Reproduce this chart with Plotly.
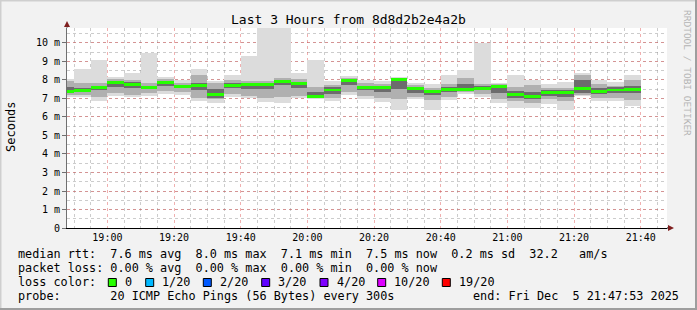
import pandas as pd
import plotly.graph_objects as go

# ---------------- data ----------------
col_starts = pd.date_range("2025-12-05 18:45", periods=35, freq="5min")
col_centers = [t + pd.Timedelta(seconds=150) for t in col_starts]

rtt_min = [7.09, 7.10, 6.87, 7.12, 7.07, 7.15, 7.23, 7.20, 6.88, 6.75, 7.09, 7.00,
           6.80, 6.76, 7.00, 6.97, 6.88, 7.18, 6.95, 6.82, 6.40, 6.95, 6.40, 6.91,
           7.23, 7.09, 6.73, 6.51, 6.46, 6.69, 6.40, 7.12, 6.87, 6.87, 6.58]
rtt_max = [8.08, 8.62, 9.10, 8.15, 8.38, 9.48, 8.15, 7.99, 8.62, 7.94, 8.26, 9.28,
           11.0, 11.0, 8.38, 9.07, 7.94, 8.20, 7.99, 7.93, 8.17, 7.84, 7.77, 8.26,
           8.53, 10.02, 7.84, 8.26, 8.02, 7.77, 7.88, 8.38, 7.99, 7.88, 8.26]
rtt_p15 = [7.20, 7.20, 7.10, 7.30, 7.20, 7.30, 7.40, 7.35, 7.00, 6.95, 7.25, 7.15,
           7.00, 7.10, 7.15, 7.05, 7.00, 7.35, 7.15, 7.00, 6.95, 7.10, 6.90, 7.10,
           7.35, 7.25, 6.95, 6.85, 6.75, 6.95, 6.85, 7.20, 7.05, 7.05, 6.90]
rtt_p85 = [7.95, 7.85, 7.85, 8.05, 8.00, 7.85, 8.05, 7.85, 8.25, 7.85, 8.00, 7.95,
           7.95, 8.10, 8.05, 7.60, 7.75, 8.10, 7.85, 7.80, 8.10, 7.75, 7.55, 7.80,
           8.10, 7.80, 7.80, 7.60, 7.75, 7.55, 7.55, 8.25, 7.80, 7.70, 8.00]
rtt_p35 = [7.30, 7.35, 7.45, 7.60, 7.55, 7.50, 7.70, 7.55, 7.45, 7.05, 7.55, 7.50,
           7.50, 7.75, 7.55, 7.10, 7.25, 7.75, 7.45, 7.35, 7.50, 7.30, 7.20, 7.35,
           7.45, 7.45, 7.30, 7.05, 6.95, 7.15, 7.10, 7.30, 7.25, 7.30, 7.30]
rtt_p65 = [7.60, 7.55, 7.70, 7.95, 7.90, 7.70, 7.95, 7.75, 7.85, 7.50, 7.85, 7.85,
           7.85, 8.00, 7.90, 7.35, 7.60, 8.00, 7.70, 7.70, 8.05, 7.60, 7.45, 7.60,
           7.80, 7.65, 7.75, 7.40, 7.35, 7.45, 7.45, 8.00, 7.55, 7.60, 7.65]
rtt_median = [7.40, 7.45, 7.58, 7.88, 7.78, 7.60, 7.85, 7.67, 7.69, 7.20, 7.72, 7.77,
              7.76, 7.94, 7.79, 7.12, 7.46, 7.95, 7.60, 7.57, 8.04, 7.55, 7.36, 7.48,
              7.47, 7.55, 7.66, 7.20, 7.09, 7.30, 7.30, 7.52, 7.38, 7.46, 7.50]

y_ticks = [0, 1, 2, 3, 4, 5, 6, 7, 8, 9, 10]
y_tick_labels = ["0", "1 m", "2 m", "3 m", "4 m", "5 m", "6 m", "7 m", "8 m", "9 m", "10 m"]

loss_labels = ["0", "1/20", "2/20", "3/20", "4/20", "10/20", "19/20"]
loss_colors = ["#26ff00", "#00b8ff", "#0059ff", "#5e00ff", "#7e00ff", "#dd00ff", "#ff0000"]

title_text = "Last 3 Hours from 8d8d2b2e4a2b"
legend_lines = [
    "median rtt:  7.6 ms avg  8.0 ms max  7.1 ms min  7.5 ms now  0.2 ms sd  32.2   am/s",
    "packet loss: 0.00 % avg  0.00 % max  0.00 % min  0.00 % now",
    "loss color:",
    "probe:       20 ICMP Echo Pings (56 Bytes) every 300s",
]
end_text = "end: Fri Dec  5 21:47:53 2025"

# ---------------- geometry helpers ----------------
W, H = 697, 310
PL, PR, PT, PB = 67, 667, 28, 228
def px(x):
    return (x - PL) / (PR - PL)
def py(y):
    return (PB - y) / (PB - PT)

MONO = "DejaVu Sans Mono"
BAR_W = 300000  # 5 minutes in ms

fig = go.Figure()

def band(lo, hi, color):
    fig.add_trace(go.Bar(
        x=col_centers, base=lo, y=[h - l for l, h in zip(lo, hi)],
        width=BAR_W, marker=dict(color=color, line=dict(width=0)),
        hoverinfo="skip", showlegend=False))

band(rtt_min, rtt_max, "#dcdcdc")
band(rtt_p15, rtt_p85, "#b0b0b0")
band(rtt_p35, rtt_p65, "#6c6c6c")
fig.add_trace(go.Bar(
    x=col_centers, base=[m - 0.08 for m in rtt_median], y=[0.16] * len(rtt_median),
    width=BAR_W, marker=dict(color=loss_colors[0], line=dict(width=0)),
    hoverinfo="skip", showlegend=False))

shapes = []
annotations = []

# frame (rrdtool shade)
shapes += [
    dict(type="rect", xref="paper", yref="paper", x0=px(0), x1=px(W), y0=py(0), y1=py(1.5),
         fillcolor="#cfcfcf", line=dict(width=0), layer="below"),
    dict(type="rect", xref="paper", yref="paper", x0=px(0), x1=px(1.5), y0=py(0), y1=py(H),
         fillcolor="#cfcfcf", line=dict(width=0), layer="below"),
    dict(type="rect", xref="paper", yref="paper", x0=px(0), x1=px(W), y0=py(H - 2), y1=py(H),
         fillcolor="#9e9e9e", line=dict(width=0), layer="below"),
    dict(type="rect", xref="paper", yref="paper", x0=px(W - 2), x1=px(W), y0=py(0), y1=py(H),
         fillcolor="#9e9e9e", line=dict(width=0), layer="below"),
]
# axis extensions and arrows
shapes += [
    dict(type="line", xref="paper", yref="paper", x0=px(67), x1=px(67), y0=py(PT), y1=py(24),
         line=dict(color="#707070", width=1)),
    dict(type="path", xref="paper", yref="paper",
         path=f"M {px(64)},{py(27)} L {px(70)},{py(27)} L {px(67)},{py(21)} Z",
         fillcolor="#7f1f1f", line=dict(width=0)),
    dict(type="line", xref="paper", yref="paper", x0=px(PR), x1=px(669), y0=py(228), y1=py(228),
         line=dict(color="#000000", width=1)),
    dict(type="path", xref="paper", yref="paper",
         path=f"M {px(668)},{py(225)} L {px(668)},{py(231)} L {px(674)},{py(228)} Z",
         fillcolor="#7f1f1f", line=dict(width=0)),
]

# title
annotations.append(dict(text=title_text, xref="paper", yref="paper", x=px(348), y=py(19),
                        xanchor="center", yanchor="middle", showarrow=False,
                        font=dict(family=MONO, size=13, color="#000")))
# y axis title
annotations.append(dict(text="Seconds", xref="paper", yref="paper", x=px(11), y=py(127),
                        xanchor="center", yanchor="middle", textangle=-90, showarrow=False,
                        font=dict(family=MONO, size=12, color="#000")))
# watermark
annotations.append(dict(text="RRDTOOL / TOBI OETIKER", xref="paper", yref="paper", x=px(688),
                        y=py(73), xanchor="center", yanchor="middle", textangle=90,
                        showarrow=False, font=dict(family=MONO, size=9.5, color="#b4b4b4")))

# legend text lines
line_y = [254, 268.3, 282.3, 296]
for txt, yy in zip(legend_lines, line_y):
    annotations.append(dict(text=txt.replace(" ", "\u00a0"), xref="paper", yref="paper",
                            x=px(16), y=py(yy), xanchor="left", yanchor="middle",
                            showarrow=False, font=dict(family=MONO, size=11.8, color="#000")))
annotations.append(dict(text=end_text.replace(" ", "\u00a0"), xref="paper", yref="paper",
                        x=px(681), y=py(296), xanchor="right", yanchor="middle",
                        showarrow=False, font=dict(family=MONO, size=11.8, color="#000")))

box_x = [108.3, 145.7, 203.3, 261.7, 320, 377.7, 442.3]
for bx, lab, colr in zip(box_x, loss_labels, loss_colors):
    shapes.append(dict(type="rect", xref="paper", yref="paper", x0=px(bx), x1=px(bx + 8),
                       y0=py(286.5), y1=py(278.5), fillcolor=colr,
                       line=dict(color="#000", width=1)))
    annotations.append(dict(text=lab, xref="paper", yref="paper", x=px(bx + 14.5), y=py(282.3),
                            xanchor="left", yanchor="middle", showarrow=False,
                            font=dict(family=MONO, size=11.8, color="#000")))

fig.update_layout(
    width=W, height=H, autosize=False,
    margin=dict(l=PL, r=W - PR, t=PT, b=H - PB, pad=0),
    paper_bgcolor="#f2f2f2", plot_bgcolor="#ffffff",
    barmode="overlay", bargap=0,
    showlegend=False,
    shapes=shapes, annotations=annotations,
    xaxis=dict(
        type="date",
        range=["2025-12-05 18:47:53", "2025-12-05 21:47:53"],
        tick0="2025-12-05 19:00", dtick=1200000, tickformat="%H:%M",
        showgrid=True, gridcolor="rgba(222,80,80,0.45)", griddash="dot", gridwidth=1,
        minor=dict(dtick=300000, tick0="2025-12-05 19:00", showgrid=True,
                   gridcolor="rgba(143,143,143,0.45)", griddash="dot", gridwidth=1),
        showline=True, linecolor="#000", linewidth=1,
        ticks="", tickfont=dict(family=MONO, size=10, color="#000"),
        zeroline=False, fixedrange=True,
    ),
    yaxis=dict(
        range=[0, 10.81], tickvals=y_ticks, ticktext=y_tick_labels,
        showgrid=True, gridcolor="rgba(222,80,80,0.45)", griddash="dot", gridwidth=1,
        minor=dict(dtick=0.5, tick0=0, showgrid=True,
                   gridcolor="rgba(143,143,143,0.45)", griddash="dot", gridwidth=1),
        showline=True, linecolor="#707070", linewidth=1,
        ticks="outside", ticklen=4, tickcolor="#707070",
        tickfont=dict(family=MONO, size=10, color="#000"),
        zeroline=False, fixedrange=True,
    ),
)

fig.write_html("out.html")
